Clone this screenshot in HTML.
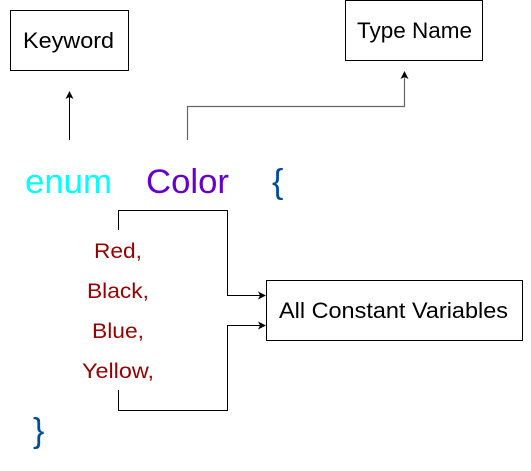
<!DOCTYPE html>
<html><head><meta charset="utf-8"><style>
html,body{margin:0;padding:0;background:#fff;}
svg{display:block;}
text{font-family:"Liberation Sans",Arial,sans-serif;}
</style></head><body>
<svg width="531" height="471" viewBox="0 0 531 471" xmlns="http://www.w3.org/2000/svg">
<rect x="10.5" y="10.5" width="118" height="60" fill="#fff" stroke="#000"/>
<text x="23" y="48" font-size="22" textLength="91" lengthAdjust="spacingAndGlyphs" fill="#000">Keyword</text>
<rect x="345.5" y="0.5" width="137" height="60" fill="#fff" stroke="#000"/>
<text x="357" y="38" font-size="22" textLength="115" lengthAdjust="spacingAndGlyphs" fill="#000">Type Name</text>
<rect x="266.5" y="280.5" width="256" height="60" fill="#fff" stroke="#000"/>
<text x="279" y="318" font-size="22" textLength="229" lengthAdjust="spacingAndGlyphs" fill="#000">All Constant Variables</text>
<g stroke="#000" fill="none" stroke-width="1">
<line x1="69.5" y1="140" x2="69.5" y2="96"/>
<polyline points="187.5,140 187.5,106.5 404.5,106.5 404.5,76" stroke="#666" stroke-width="1.2"/>
<polyline points="118.5,230 118.5,210.5 227.5,210.5 227.5,295.5 260,295.5"/>
<polyline points="118.5,390 118.5,410.5 227.5,410.5 227.5,325.5 260,325.5"/>
</g>
<g fill="#000">
<polygon points="69.5,91 65.5,99 69.5,97 73.5,99"/>
<polygon points="404.5,71 400.5,79 404.5,77 408.5,79"/>
<polygon points="266,295.5 258,291.5 260,295.5 258,299.5"/>
<polygon points="266,325.5 258,321.5 260,325.5 258,329.5"/>
</g>
<text x="25" y="193" font-size="34" textLength="87" lengthAdjust="spacingAndGlyphs" fill="#00ffff">enum</text>
<text x="146" y="193" font-size="34" textLength="83" lengthAdjust="spacingAndGlyphs" fill="#6600cc">Color</text>
<text x="272" y="193" font-size="34" fill="#004c99">{</text>
<g font-size="21" fill="#990000">
<text x="94" y="258" textLength="48" lengthAdjust="spacingAndGlyphs">Red,</text>
<text x="87" y="298" textLength="62" lengthAdjust="spacingAndGlyphs">Black,</text>
<text x="92" y="338" textLength="52" lengthAdjust="spacingAndGlyphs">Blue,</text>
<text x="82" y="378" textLength="72" lengthAdjust="spacingAndGlyphs">Yellow,</text>
</g>
<text x="33" y="442" font-size="34" fill="#004c99">}</text>
</svg>
</body></html>
